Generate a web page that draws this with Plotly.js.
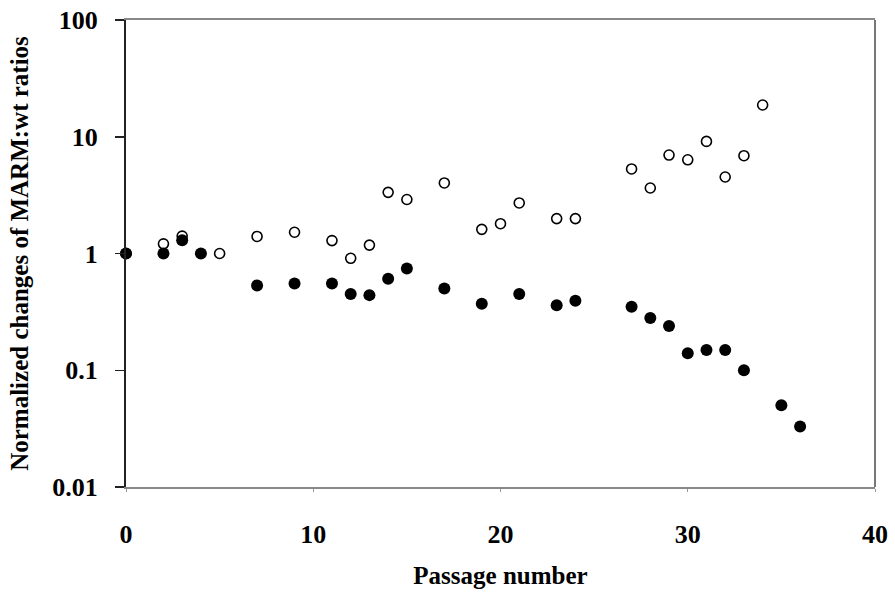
<!DOCTYPE html>
<html>
<head>
<meta charset="utf-8">
<script src="https://cdn.plot.ly/plotly-3.0.1.min.js"></script>
<style>html,body{margin:0;padding:0;background:#fff;}#chart{width:895px;height:596px;}</style>
</head>
<body>
<div id="chart"></div>
<script>
// Open circles series
const xOpen = [0,2,3,5,7,9,11,12,13,14,15,17,19,20,21,23,24,27,28,29,30,31,32,33,34];
const yOpen = [1,1.21,1.41,1.0,1.40,1.52,1.29,0.91,1.18,3.34,2.9,4.02,1.61,1.80,2.71,1.99,1.99,5.30,3.64,6.97,6.35,9.12,4.52,6.88,18.7];
// Filled circles series
const xFilled = [0,2,3,4,7,9,11,12,13,14,15,17,19,21,23,24,27,28,29,30,31,32,33,35,36];
const yFilled = [1,1,1.30,1,0.533,0.554,0.554,0.449,0.44,0.608,0.744,0.502,0.371,0.449,0.36,0.394,0.35,0.28,0.239,0.14,0.149,0.149,0.1,0.0502,0.033];
// Tick labels
const yTickVals = [0.01,0.1,1,10,100];
const yTickText = ['0.01','0.1','1','10','100'];
const xTickVals = [0,10,20,30,40];

const fontFam = '"Liberation Serif", "Times New Roman", serif';

const traces = [
  {x: xOpen, y: yOpen, type: 'scatter', mode: 'markers', cliponaxis: false,
   marker: {symbol: 'circle', size: 10, color: '#ffffff', line: {color: '#000000', width: 1.6}}},
  {x: xFilled, y: yFilled, type: 'scatter', mode: 'markers', cliponaxis: false,
   marker: {symbol: 'circle', size: 12, color: '#000000', line: {width: 0}}}
];

const layout = {
  width: 895, height: 596,
  margin: {l: 126, r: 20, t: 20, b: 109},
  paper_bgcolor: '#ffffff', plot_bgcolor: '#ffffff',
  showlegend: false,
  font: {family: fontFam, color: '#000000'},
  xaxis: {
    range: [0, 40], tickvals: xTickVals, ticktext: xTickVals.map(String),
    showgrid: false, zeroline: false,
    showline: true, linecolor: '#888888', linewidth: 2, mirror: true,
    ticks: 'outside', ticklen: 3, tickcolor: '#999999', tickwidth: 1,
    ticklabelstandoff: 20,
    tickfont: {family: fontFam, size: 26, weight: 'bold', color: '#000000'},
    title: {text: 'Passage number', font: {family: fontFam, size: 25, weight: 'bold', color: '#000000'}, standoff: 18}
  },
  yaxis: {
    type: 'log', range: [-2, 2], tickvals: yTickVals, ticktext: yTickText,
    showgrid: false, zeroline: false,
    showline: true, linecolor: '#222222', linewidth: 2,
    ticks: 'outside', ticklen: 9, tickcolor: '#222222', tickwidth: 1.5,
    ticklabelstandoff: 12,
    tickfont: {family: fontFam, size: 26, weight: 'bold', color: '#000000'},
    title: {text: 'Normalized changes of MARM:wt ratios', font: {family: fontFam, size: 25, weight: 'bold', color: '#000000'}, standoff: 17}
  },
  shapes: [
    {type: 'line', xref: 'paper', yref: 'paper', x0: 1, x1: 1, y0: 0, y1: 1, line: {color: '#777777', width: 2}, layer: 'below'}
  ]
};

Plotly.newPlot('chart', traces, layout, {displayModeBar: false, staticPlot: true});
</script>
</body>
</html>
